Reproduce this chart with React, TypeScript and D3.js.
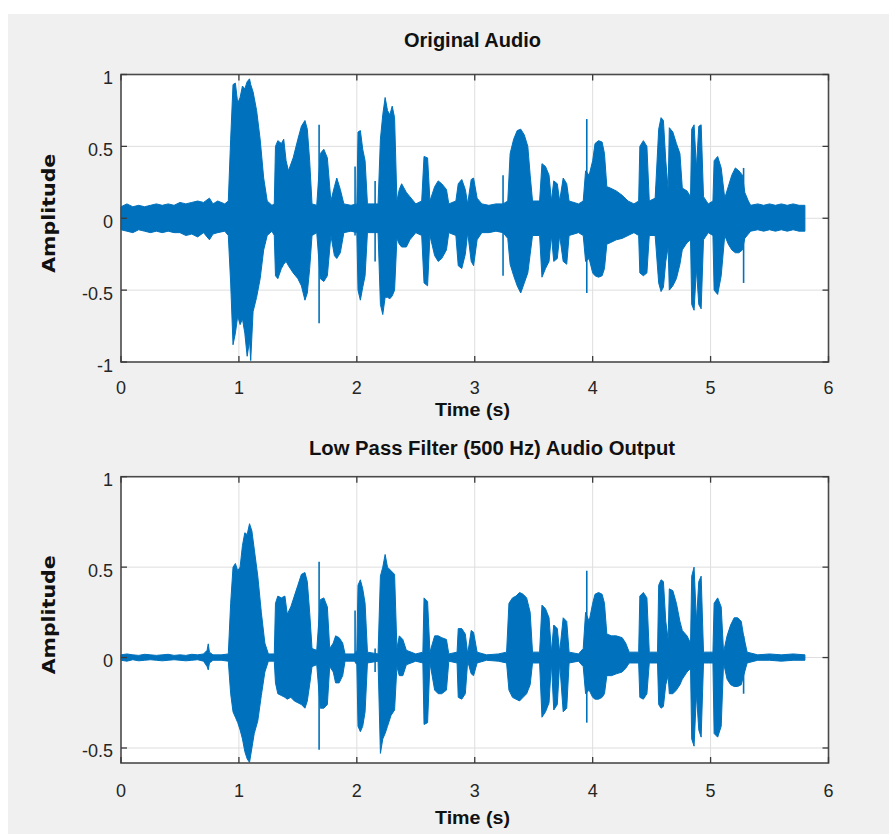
import React, { useEffect, useRef } from 'react';
import * as d3 from 'd3';

// [time (s), upper envelope, lower envelope]
type Env = [number, number, number];

const timeTicks = [0, 1, 2, 3, 4, 5, 6];
const originalTicks = [-1, -0.5, 0, 0.5, 1];
const filteredTicks = [-0.5, 0, 0.5, 1];

const originalEnvelope: Env[] = [
  [0.0, 0.08, -0.08], [0.05, 0.1, -0.09], [0.1, 0.08, -0.1], [0.15, 0.09, -0.08],
  [0.2, 0.08, -0.09], [0.25, 0.09, -0.1], [0.3, 0.1, -0.09], [0.35, 0.09, -0.1],
  [0.4, 0.1, -0.09], [0.45, 0.09, -0.1], [0.5, 0.11, -0.1], [0.55, 0.1, -0.12],
  [0.6, 0.11, -0.11], [0.65, 0.12, -0.13], [0.7, 0.11, -0.1], [0.75, 0.14, -0.15],
  [0.78, 0.1, -0.11], [0.82, 0.12, -0.1], [0.88, 0.1, -0.09], [0.91, 0.12, -0.12],
  [0.93, 0.55, -0.45], [0.95, 0.93, -0.88], [0.97, 0.94, -0.8], [0.99, 0.8, -0.68],
  [1.01, 0.84, -0.74], [1.03, 0.92, -0.7], [1.05, 0.9, -0.8], [1.07, 0.95, -0.96],
  [1.09, 0.97, -0.85], [1.1, 0.93, -0.99], [1.12, 0.88, -0.65], [1.15, 0.75, -0.55],
  [1.18, 0.55, -0.42], [1.21, 0.28, -0.22], [1.24, 0.12, -0.12], [1.28, 0.09, -0.09],
  [1.3, 0.1, -0.12], [1.31, 0.5, -0.4], [1.33, 0.54, -0.42], [1.36, 0.52, -0.35],
  [1.38, 0.55, -0.32], [1.4, 0.4, -0.3], [1.42, 0.33, -0.33], [1.46, 0.42, -0.38],
  [1.5, 0.55, -0.42], [1.53, 0.64, -0.47], [1.56, 0.68, -0.57], [1.58, 0.62, -0.52],
  [1.6, 0.4, -0.35], [1.62, 0.1, -0.12], [1.66, 0.09, -0.1], [1.69, 0.45, -0.42],
  [1.72, 0.48, -0.44], [1.75, 0.42, -0.4], [1.78, 0.12, -0.12], [1.81, 0.22, -0.26],
  [1.83, 0.28, -0.28], [1.86, 0.2, -0.24], [1.89, 0.1, -0.1], [1.95, 0.09, -0.09],
  [2.0, 0.1, -0.1], [2.01, 0.6, -0.5], [2.03, 0.61, -0.57], [2.05, 0.48, -0.48],
  [2.07, 0.4, -0.4], [2.09, 0.1, -0.1], [2.18, 0.1, -0.1], [2.2, 0.55, -0.6],
  [2.22, 0.72, -0.67], [2.24, 0.84, -0.55], [2.26, 0.75, -0.55], [2.28, 0.72, -0.56],
  [2.3, 0.78, -0.54], [2.32, 0.7, -0.5], [2.34, 0.12, -0.14], [2.36, 0.2, -0.18],
  [2.38, 0.24, -0.2], [2.42, 0.18, -0.2], [2.45, 0.15, -0.15], [2.5, 0.1, -0.1],
  [2.55, 0.12, -0.12], [2.57, 0.43, -0.45], [2.6, 0.42, -0.47], [2.62, 0.12, -0.12],
  [2.66, 0.22, -0.26], [2.69, 0.26, -0.3], [2.72, 0.24, -0.28], [2.76, 0.2, -0.22],
  [2.78, 0.1, -0.1], [2.84, 0.12, -0.12], [2.86, 0.24, -0.33], [2.89, 0.27, -0.35],
  [2.92, 0.2, -0.25], [2.94, 0.1, -0.1], [2.97, 0.27, -0.3], [2.99, 0.28, -0.33],
  [3.02, 0.14, -0.15], [3.06, 0.1, -0.1], [3.12, 0.09, -0.1], [3.18, 0.1, -0.09],
  [3.24, 0.1, -0.1], [3.28, 0.12, -0.14], [3.3, 0.45, -0.32], [3.33, 0.55, -0.4],
  [3.36, 0.61, -0.47], [3.39, 0.62, -0.52], [3.42, 0.58, -0.45], [3.45, 0.5, -0.38],
  [3.47, 0.3, -0.25], [3.49, 0.12, -0.12], [3.55, 0.12, -0.12], [3.57, 0.38, -0.41],
  [3.6, 0.36, -0.35], [3.63, 0.3, -0.3], [3.65, 0.12, -0.12], [3.67, 0.26, -0.3],
  [3.7, 0.24, -0.28], [3.72, 0.12, -0.12], [3.75, 0.28, -0.3], [3.78, 0.24, -0.32],
  [3.8, 0.12, -0.12], [3.88, 0.1, -0.1], [3.92, 0.12, -0.12], [3.94, 0.33, -0.3],
  [3.97, 0.3, -0.28], [4.0, 0.4, -0.38], [4.02, 0.52, -0.4], [4.05, 0.54, -0.41],
  [4.08, 0.53, -0.4], [4.1, 0.45, -0.35], [4.12, 0.22, -0.18], [4.15, 0.21, -0.17],
  [4.2, 0.19, -0.15], [4.25, 0.16, -0.14], [4.3, 0.12, -0.12], [4.35, 0.1, -0.1],
  [4.39, 0.12, -0.12], [4.4, 0.5, -0.38], [4.43, 0.54, -0.4], [4.46, 0.5, -0.38],
  [4.48, 0.12, -0.12], [4.53, 0.14, -0.12], [4.56, 0.62, -0.45], [4.58, 0.7, -0.51],
  [4.6, 0.68, -0.48], [4.62, 0.4, -0.3], [4.64, 0.2, -0.2], [4.65, 0.63, -0.5],
  [4.68, 0.6, -0.47], [4.71, 0.52, -0.42], [4.74, 0.45, -0.32], [4.76, 0.21, -0.22],
  [4.8, 0.19, -0.17], [4.83, 0.15, -0.15], [4.84, 0.62, -0.6], [4.86, 0.65, -0.64],
  [4.88, 0.35, -0.35], [4.9, 0.64, -0.6], [4.92, 0.65, -0.63], [4.94, 0.15, -0.15],
  [4.98, 0.1, -0.1], [5.02, 0.12, -0.12], [5.03, 0.4, -0.5], [5.06, 0.43, -0.53],
  [5.09, 0.35, -0.4], [5.12, 0.14, -0.12], [5.15, 0.22, -0.18], [5.18, 0.3, -0.22],
  [5.21, 0.35, -0.24], [5.24, 0.33, -0.24], [5.27, 0.3, -0.22], [5.29, 0.18, -0.14],
  [5.32, 0.12, -0.11], [5.34, 0.09, -0.09], [5.4, 0.1, -0.08], [5.45, 0.09, -0.09],
  [5.5, 0.1, -0.08], [5.55, 0.09, -0.09], [5.6, 0.1, -0.08], [5.65, 0.09, -0.09],
  [5.7, 0.1, -0.08], [5.75, 0.09, -0.09], [5.8, 0.09, -0.09],
];

const originalSpikes: Env[] = [
  [1.68, 0.65, -0.73], [1.985, 0.36, -0.12], [2.155, 0.26, -0.3],
  [3.24, 0.3, -0.4], [3.95, 0.69, -0.52], [4.54, 0.22, -0.12], [5.28, 0.35, -0.45],
];

const filteredEnvelope: Env[] = [
  [0.0, 0.015, -0.015], [0.05, 0.02, -0.02], [0.1, 0.015, -0.012], [0.15, 0.012, -0.018],
  [0.2, 0.018, -0.015], [0.25, 0.015, -0.012], [0.3, 0.012, -0.015], [0.35, 0.015, -0.018],
  [0.4, 0.018, -0.015], [0.45, 0.012, -0.012], [0.5, 0.015, -0.015], [0.55, 0.012, -0.018],
  [0.6, 0.018, -0.015], [0.65, 0.015, -0.012], [0.7, 0.02, -0.02], [0.73, 0.04, -0.05],
  [0.74, 0.076, -0.068], [0.75, 0.03, -0.03], [0.78, 0.015, -0.015], [0.85, 0.015, -0.015],
  [0.91, 0.02, -0.02], [0.93, 0.3, -0.2], [0.95, 0.5, -0.3], [0.97, 0.52, -0.33],
  [0.99, 0.48, -0.36], [1.01, 0.5, -0.4], [1.03, 0.62, -0.45], [1.05, 0.69, -0.52],
  [1.07, 0.68, -0.56], [1.09, 0.74, -0.58], [1.11, 0.7, -0.5], [1.13, 0.6, -0.42],
  [1.16, 0.45, -0.35], [1.19, 0.25, -0.21], [1.22, 0.08, -0.08], [1.25, 0.02, -0.02],
  [1.3, 0.02, -0.02], [1.31, 0.3, -0.14], [1.33, 0.34, -0.2], [1.36, 0.33, -0.21],
  [1.39, 0.34, -0.22], [1.41, 0.24, -0.23], [1.44, 0.28, -0.22], [1.47, 0.34, -0.24],
  [1.5, 0.4, -0.25], [1.53, 0.46, -0.26], [1.56, 0.47, -0.28], [1.58, 0.42, -0.24],
  [1.6, 0.25, -0.15], [1.62, 0.05, -0.05], [1.66, 0.04, -0.04], [1.69, 0.32, -0.28],
  [1.72, 0.33, -0.28], [1.75, 0.28, -0.26], [1.77, 0.05, -0.05], [1.8, 0.08, -0.08],
  [1.82, 0.12, -0.14], [1.85, 0.11, -0.14], [1.88, 0.08, -0.1], [1.9, 0.02, -0.02],
  [1.98, 0.02, -0.02], [2.0, 0.04, -0.04], [2.01, 0.4, -0.38], [2.03, 0.43, -0.41],
  [2.05, 0.38, -0.38], [2.07, 0.3, -0.3], [2.09, 0.03, -0.03], [2.18, 0.02, -0.02],
  [2.2, 0.45, -0.53], [2.22, 0.5, -0.45], [2.24, 0.57, -0.42], [2.26, 0.5, -0.38],
  [2.29, 0.48, -0.32], [2.32, 0.46, -0.29], [2.34, 0.05, -0.05], [2.36, 0.12, -0.1],
  [2.39, 0.1, -0.1], [2.42, 0.04, -0.04], [2.5, 0.02, -0.02], [2.56, 0.03, -0.03],
  [2.57, 0.33, -0.37], [2.6, 0.31, -0.36], [2.62, 0.03, -0.03], [2.66, 0.12, -0.18],
  [2.69, 0.12, -0.2], [2.72, 0.11, -0.2], [2.76, 0.1, -0.18], [2.78, 0.02, -0.02],
  [2.85, 0.03, -0.03], [2.86, 0.16, -0.22], [2.89, 0.16, -0.23], [2.92, 0.13, -0.2],
  [2.94, 0.02, -0.02], [2.97, 0.15, -0.09], [2.99, 0.14, -0.1], [3.02, 0.03, -0.03],
  [3.1, 0.015, -0.015], [3.2, 0.02, -0.02], [3.27, 0.03, -0.03], [3.29, 0.3, -0.18],
  [3.32, 0.33, -0.22], [3.35, 0.34, -0.23], [3.38, 0.36, -0.24], [3.41, 0.35, -0.22],
  [3.44, 0.33, -0.2], [3.47, 0.25, -0.15], [3.49, 0.03, -0.03], [3.55, 0.03, -0.03],
  [3.57, 0.29, -0.33], [3.6, 0.27, -0.3], [3.63, 0.22, -0.25], [3.65, 0.03, -0.03],
  [3.67, 0.18, -0.29], [3.7, 0.16, -0.26], [3.72, 0.03, -0.03], [3.75, 0.22, -0.3],
  [3.78, 0.2, -0.28], [3.8, 0.03, -0.03], [3.88, 0.02, -0.02], [3.92, 0.05, -0.05],
  [3.94, 0.25, -0.2], [3.97, 0.2, -0.18], [4.0, 0.3, -0.22], [4.02, 0.35, -0.23],
  [4.05, 0.36, -0.23], [4.08, 0.35, -0.22], [4.1, 0.3, -0.2], [4.12, 0.13, -0.1],
  [4.16, 0.12, -0.1], [4.2, 0.12, -0.09], [4.25, 0.11, -0.08], [4.28, 0.08, -0.06],
  [4.31, 0.03, -0.03], [4.39, 0.03, -0.03], [4.4, 0.34, -0.22], [4.43, 0.36, -0.23],
  [4.46, 0.33, -0.2], [4.48, 0.03, -0.03], [4.55, 0.03, -0.03], [4.56, 0.4, -0.26],
  [4.58, 0.43, -0.28], [4.6, 0.42, -0.27], [4.62, 0.2, -0.15], [4.64, 0.1, -0.1],
  [4.65, 0.38, -0.2], [4.68, 0.37, -0.2], [4.71, 0.3, -0.18], [4.74, 0.2, -0.15],
  [4.76, 0.15, -0.12], [4.8, 0.12, -0.08], [4.83, 0.08, -0.06], [4.84, 0.45, -0.45],
  [4.86, 0.5, -0.49], [4.88, 0.2, -0.2], [4.9, 0.42, -0.4], [4.92, 0.45, -0.44],
  [4.94, 0.03, -0.03], [5.02, 0.03, -0.03], [5.03, 0.3, -0.42], [5.06, 0.33, -0.44],
  [5.09, 0.28, -0.38], [5.11, 0.03, -0.03], [5.14, 0.12, -0.12], [5.17, 0.18, -0.15],
  [5.2, 0.22, -0.16], [5.23, 0.22, -0.16], [5.26, 0.2, -0.15], [5.28, 0.12, -0.1],
  [5.31, 0.03, -0.03], [5.4, 0.015, -0.015], [5.5, 0.02, -0.015], [5.6, 0.015, -0.02],
  [5.7, 0.02, -0.015], [5.8, 0.015, -0.015],
];

const filteredSpikes: Env[] = [
  [1.68, 0.53, -0.51], [1.985, 0.26, -0.02], [2.155, 0.05, -0.08],
  [3.95, 0.48, -0.36], [5.28, 0.12, -0.2],
];

interface Panel {
  title: string;
  titleX: number;
  titleY: number;
  titleLen: number;
  top: number;
  bottom: number;
  yDomain: [number, number];
  yTicks: number[];
  envelope: Env[];
  spikes: Env[];
  xLabelY: number;
  tickLabelY: number;
}

const panels: Panel[] = [
  {
    title: 'Original Audio',
    titleX: 472.5,
    titleY: 47,
    titleLen: 137,
    top: 74.5,
    bottom: 362,
    yDomain: [-1, 1],
    yTicks: originalTicks,
    envelope: originalEnvelope,
    spikes: originalSpikes,
    xLabelY: 416,
    tickLabelY: 394,
  },
  {
    title: 'Low Pass Filter (500 Hz) Audio Output',
    titleX: 492,
    titleY: 455,
    titleLen: 366,
    top: 476.7,
    bottom: 763,
    yDomain: [-0.583, 1],
    yTicks: filteredTicks,
    envelope: filteredEnvelope,
    spikes: filteredSpikes,
    xLabelY: 824,
    tickLabelY: 797,
  },
];

const BLUE = '#0072bd';
const narrow = "'Liberation Sans Narrow', 'Arial Narrow', 'Liberation Sans', Arial, sans-serif";

function drawPanel(svg: d3.Selection<SVGSVGElement, unknown, null, undefined>, p: Panel) {
  const left = 121;
  const right = 828.5;
  const x = d3.scaleLinear().domain([0, 6]).range([left, right]);
  const y = d3.scaleLinear().domain(p.yDomain).range([p.bottom, p.top]);
  const g = svg.append('g');

  // plot background
  g.append('rect')
    .attr('x', left)
    .attr('y', p.top)
    .attr('width', right - left)
    .attr('height', p.bottom - p.top)
    .attr('fill', '#ffffff');

  // grid
  g.selectAll('.vgrid')
    .data(timeTicks.slice(1, -1))
    .enter()
    .append('line')
    .attr('x1', (d) => x(d))
    .attr('x2', (d) => x(d))
    .attr('y1', p.top)
    .attr('y2', p.bottom)
    .attr('stroke', '#dedede')
    .attr('stroke-width', 1);

  g.selectAll('.hgrid')
    .data(p.yTicks.filter((d) => y(d) > p.top + 1 && y(d) < p.bottom - 1))
    .enter()
    .append('line')
    .attr('x1', left)
    .attr('x2', right)
    .attr('y1', (d) => y(d))
    .attr('y2', (d) => y(d))
    .attr('stroke', '#dedede')
    .attr('stroke-width', 1);

  // waveform envelope
  const area = d3
    .area<Env>()
    .x((d) => x(d[0]))
    .y0((d) => y(d[2]))
    .y1((d) => y(d[1]))
    .curve(d3.curveLinear);

  g.append('path')
    .datum(p.envelope)
    .attr('d', area)
    .attr('fill', BLUE)
    .attr('stroke', BLUE)
    .attr('stroke-width', 1)
    .attr('stroke-linejoin', 'bevel');

  g.selectAll('.spike')
    .data(p.spikes)
    .enter()
    .append('line')
    .attr('x1', (d) => x(d[0]))
    .attr('x2', (d) => x(d[0]))
    .attr('y1', (d) => y(d[1]))
    .attr('y2', (d) => y(d[2]))
    .attr('stroke', BLUE)
    .attr('stroke-width', 1.6);

  // axes box
  g.append('rect')
    .attr('x', left)
    .attr('y', p.top)
    .attr('width', right - left)
    .attr('height', p.bottom - p.top)
    .attr('fill', 'none')
    .attr('stroke', '#4a4a4a')
    .attr('stroke-width', 1.6);

  const tickLen = 6;
  timeTicks.forEach((t) => {
    [p.top, p.bottom].forEach((yy, i) => {
      g.append('line')
        .attr('x1', x(t))
        .attr('x2', x(t))
        .attr('y1', yy)
        .attr('y2', i === 0 ? yy + tickLen : yy - tickLen)
        .attr('stroke', '#3a3a3a')
        .attr('stroke-width', 1.3);
    });
  });
  p.yTicks.forEach((v) => {
    [left, right].forEach((xx, i) => {
      g.append('line')
        .attr('x1', xx)
        .attr('x2', i === 0 ? xx + tickLen : xx - tickLen)
        .attr('y1', y(v))
        .attr('y2', y(v))
        .attr('stroke', '#3a3a3a')
        .attr('stroke-width', 1.3);
    });
  });

  // tick labels
  g.selectAll('.xlab')
    .data(timeTicks)
    .enter()
    .append('text')
    .attr('x', (d) => x(d))
    .attr('y', p.tickLabelY)
    .attr('text-anchor', 'middle')
    .attr('font-family', narrow)
    .attr('font-size', 18)
    .attr('fill', '#262626')
    .text((d) => String(d));

  g.selectAll('.ylab')
    .data(p.yTicks)
    .enter()
    .append('text')
    .attr('x', 113)
    .attr('y', (d) => y(d) + 9.5)
    .attr('text-anchor', 'end')
    .attr('font-family', narrow)
    .attr('font-size', 18)
    .attr('fill', '#262626')
    .text((d) => String(d));

  // title
  g.append('text')
    .attr('x', p.titleX)
    .attr('y', p.titleY)
    .attr('text-anchor', 'middle')
    .attr('font-family', narrow)
    .attr('font-weight', 'bold')
    .attr('font-size', 20)
    .attr('textLength', p.titleLen)
    .attr('lengthAdjust', 'spacingAndGlyphs')
    .attr('fill', '#111111')
    .text(p.title);

  // x label
  g.append('text')
    .attr('x', 472.5)
    .attr('y', p.xLabelY)
    .attr('text-anchor', 'middle')
    .attr('font-family', narrow)
    .attr('font-weight', 'bold')
    .attr('font-size', 19)
    .attr('textLength', 75)
    .attr('lengthAdjust', 'spacingAndGlyphs')
    .attr('fill', '#111111')
    .text('Time (s)');

  // y label
  const cy = (p.top + p.bottom) / 2 - 5;
  g.append('text')
    .attr('transform', `translate(55, ${cy}) rotate(-90)`)
    .attr('text-anchor', 'middle')
    .attr('font-family', "'DejaVu Sans', Arial, sans-serif")
    .attr('font-weight', 'bold')
    .attr('font-size', 17)
    .attr('textLength', 119)
    .attr('lengthAdjust', 'spacingAndGlyphs')
    .attr('fill', '#111111')
    .text('Amplitude');
}

export default function App() {
  const ref = useRef<SVGSVGElement>(null);

  useEffect(() => {
    const svg = d3.select(ref.current as SVGSVGElement);
    svg.selectAll('*').remove();

    svg
      .append('rect')
      .attr('x', 8)
      .attr('y', 14)
      .attr('width', 881)
      .attr('height', 820)
      .attr('fill', '#f0f0f0');

    panels.forEach((p) => drawPanel(svg, p));
  }, []);

  return (
    <svg
      ref={ref}
      width={889}
      height={834}
      style={{ position: 'absolute', left: 0, top: 0, background: '#ffffff' }}
    />
  );
}
